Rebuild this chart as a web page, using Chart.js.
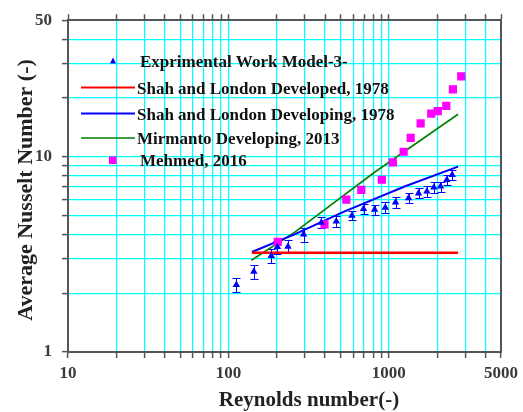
<!DOCTYPE html>
<html>
<head>
<meta charset="utf-8">
<script src="https://cdn.jsdelivr.net/npm/chart.js@4.4.0/dist/chart.umd.min.js"></script>
<style>
  html, body { margin: 0; padding: 0; background: #ffffff; }
  #wrap { width: 523px; height: 412px; position: relative; }
</style>
</head>
<body>
<div id="wrap"><canvas id="c"></canvas></div>
<script>
// Experimental average Nusselt number vs Reynolds number, with ± uncertainty
const reExp = [112, 144, 185, 202, 235, 294, 379, 470, 589, 695, 815, 950, 1101, 1327, 1531, 1726, 1907, 2100, 2298, 2481];
const nuExp = [2.21, 2.58, 3.11, 3.45, 3.47, 4.0, 4.6, 4.67, 5.0, 5.4, 5.36, 5.49, 5.84, 6.14, 6.5, 6.64, 6.96, 7.04, 7.61, 8.07];
const nuExpErr = [0.19, 0.21, 0.24, 0.26, 0.26, 0.33, 0.29, 0.28, 0.25, 0.32, 0.32, 0.36, 0.35, 0.37, 0.39, 0.40, 0.42, 0.42, 0.46, 0.48];

// Correlations
const reShahDeveloped = [140, 2700];
const nuShahDeveloped = [3.22, 3.22];
const reShahDeveloping = [140, 258, 530, 1253, 2700];
const nuShahDeveloping = [3.25, 4.0, 5.25, 7.04, 8.9];
const reMirmanto = [139, 258, 818, 2700];
const nuMirmanto = [2.95, 4.1, 8.35, 16.5];

// Mehmed (2016) data
const reMehmed = [203, 397, 543, 673, 904, 1059, 1236, 1368, 1578, 1837, 2019, 2280, 2507, 2826];
const nuMehmed = [3.66, 4.5, 6.03, 6.77, 7.62, 9.36, 10.6, 12.5, 14.8, 16.6, 17.1, 18.2, 22.1, 25.8];

// Axis ticks and the labels shown on them
const xTickValues = [10, 20, 30, 40, 50, 60, 70, 80, 90, 100, 200, 300, 400, 500, 600, 700, 800, 900, 1000, 2000, 3000, 4000, 5000];
const xTickLabels = { 10: '10', 100: '100', 1000: '1000', 5000: '5000' };
const yTickValues = [1, 2, 3, 4, 5, 6, 7, 8, 9, 10, 20, 30, 40, 50];
const yTickLabels = { 1: '1', 10: '10', 50: '50' };

const seriesNames = [
  'Exprimental Work Model-3-',
  'Shah and London Developed, 1978',
  'Shah and London Developing, 1978',
  'Mirmanto Developing, 2013',
  'Mehmed, 2016'
];
const xTitle = 'Reynolds number(-)';
const yTitle = 'Average Nusselt Number (-)';

const GRID = '#00ffff';
const AXIS = '#555555';
const SERIF = "'Liberation Serif', 'Times New Roman', serif";
const COLORS = ['#0000ff', '#ff0000', '#0000ff', '#008000', '#ff00ff'];

const pts = (xs, ys) => xs.map((x, i) => ({ x: x, y: ys[i] }));
const setTicks = vals => scale => { scale.ticks = vals.map(v => ({ value: v })); };

// vertical error bars with caps under the experimental markers
const errorBars = {
  id: 'errorBars',
  beforeDatasetsDraw(chart) {
    const ctx = chart.ctx, xs = chart.scales.x, ys = chart.scales.y;
    ctx.save();
    ctx.strokeStyle = COLORS[0];
    ctx.lineWidth = 1;
    reExp.forEach((re, i) => {
      const px = Math.round(xs.getPixelForValue(re)) + 0.5;
      const top = Math.round(ys.getPixelForValue(nuExp[i] + nuExpErr[i])) + 0.5;
      const bot = Math.round(ys.getPixelForValue(nuExp[i] - nuExpErr[i])) + 0.5;
      ctx.beginPath();
      ctx.moveTo(px, top); ctx.lineTo(px, bot);
      ctx.moveTo(px - 4, top); ctx.lineTo(px + 4, top);
      ctx.moveTo(px - 4, bot); ctx.lineTo(px + 4, bot);
      ctx.stroke();
    });
    ctx.restore();
  }
};

// legend block inside the plot and the two axis titles
const annotations = {
  id: 'annotations',
  afterDraw(chart) {
    const ctx = chart.ctx;
    ctx.save();
    const rows = [61, 87.5, 113.5, 138, 160];
    ctx.font = 'bold 17px ' + SERIF;
    ctx.fillStyle = '#111111';
    ctx.textBaseline = 'alphabetic';
    ctx.textAlign = 'left';
    rows.forEach((y, i) => {
      if (i === 0) {
        ctx.fillStyle = COLORS[0];
        ctx.beginPath();
        ctx.moveTo(113, y - 3.5);
        ctx.lineTo(116, y + 2.5);
        ctx.lineTo(110, y + 2.5);
        ctx.closePath();
        ctx.fill();
      } else if (i === 4) {
        ctx.fillStyle = COLORS[4];
        ctx.fillRect(109, y - 3.5, 7.5, 7.5);
      } else {
        ctx.strokeStyle = COLORS[i];
        ctx.lineWidth = i === 3 ? 1.6 : 2;
        ctx.beginPath();
        ctx.moveTo(81, y);
        ctx.lineTo(135, y);
        ctx.stroke();
      }
      ctx.fillStyle = '#111111';
      const tx = (i === 0 || i === 4) ? 140 : 137;
      ctx.fillText(seriesNames[i], tx, y + 6);
    });

    ctx.fillStyle = '#222222';
    ctx.font = 'bold 21px ' + SERIF;
    ctx.textAlign = 'center';
    ctx.fillText(xTitle, 309, 406);

    ctx.font = 'bold 22px ' + SERIF;
    ctx.translate(32, 190);
    ctx.rotate(-Math.PI / 2);
    ctx.fillText(yTitle, 0, 0);
    ctx.restore();
  }
};

const edgeX = v => v === 10 || v === 5000;
const edgeY = v => v === 1 || v === 50;

new Chart(document.getElementById('c'), {
  type: 'scatter',
  data: {
    datasets: [
      {
        label: seriesNames[0], data: pts(reExp, nuExp), order: 0,
        pointStyle: 'triangle', pointRadius: 4.3, pointHoverRadius: 4.3,
        backgroundColor: COLORS[0], borderColor: COLORS[0], borderWidth: 0, showLine: false
      },
      {
        label: seriesNames[4], data: pts(reMehmed, nuMehmed), order: 1,
        pointStyle: 'rect', pointRadius: 5.8, pointHoverRadius: 5.8,
        backgroundColor: COLORS[4], borderColor: COLORS[4], borderWidth: 0, showLine: false
      },
      {
        label: seriesNames[1], data: pts(reShahDeveloped, nuShahDeveloped), order: 2,
        showLine: true, pointRadius: 0, borderColor: COLORS[1], borderWidth: 2.5, backgroundColor: COLORS[1]
      },
      {
        label: seriesNames[2], data: pts(reShahDeveloping, nuShahDeveloping), order: 3,
        showLine: true, pointRadius: 0, borderColor: COLORS[2], borderWidth: 2, backgroundColor: COLORS[2]
      },
      {
        label: seriesNames[3], data: pts(reMirmanto, nuMirmanto), order: 4,
        showLine: true, pointRadius: 0, borderColor: COLORS[3], borderWidth: 1.6, backgroundColor: COLORS[3]
      }
    ]
  },
  options: {
    responsive: true,
    maintainAspectRatio: false,
    animation: false,
    layout: { padding: 0 },
    plugins: { legend: { display: false }, tooltip: { enabled: false } },
    scales: {
      x: {
        type: 'logarithmic', position: 'bottom', min: 10, max: 5000,
        afterBuildTicks: setTicks(xTickValues),
        afterFit: s => { s.height = 60; },
        border: { color: AXIS, width: 2 },
        grid: {
          color: c => edgeX(c.tick.value) ? 'rgba(0,0,0,0)' : GRID,
          lineWidth: 1.2, tickColor: AXIS, tickLength: 6, tickWidth: 1.5
        },
        ticks: {
          autoSkip: false, maxRotation: 0, padding: 5, color: '#3a3a3a',
          font: { family: SERIF, size: 17, weight: 'bold' },
          callback: v => xTickLabels[v] || ''
        }
      },
      x2: {
        type: 'logarithmic', position: 'top', min: 10, max: 5000,
        afterBuildTicks: setTicks(xTickValues),
        afterFit: s => { s.height = 16; },
        border: { color: AXIS, width: 2 },
        grid: { drawOnChartArea: false, tickColor: AXIS, tickLength: 6, tickWidth: 1.5 },
        ticks: { display: false, autoSkip: false }
      },
      y: {
        type: 'logarithmic', position: 'left', min: 1, max: 50,
        afterBuildTicks: setTicks(yTickValues),
        afterFit: s => { s.width = 68; },
        border: { color: AXIS, width: 2 },
        grid: {
          color: c => edgeY(c.tick.value) ? 'rgba(0,0,0,0)' : GRID,
          lineWidth: 1.2, tickColor: AXIS, tickLength: 6, tickWidth: 1.5
        },
        ticks: {
          autoSkip: false, padding: 10, color: '#3a3a3a',
          font: { family: SERIF, size: 17, weight: 'bold' },
          callback: v => yTickLabels[v] || ''
        }
      },
      y2: {
        type: 'logarithmic', position: 'right', min: 1, max: 50,
        afterFit: s => { s.width = 19; },
        border: { color: AXIS, width: 2 },
        grid: { drawOnChartArea: false, drawTicks: false },
        ticks: { display: false }
      }
    }
  },
  plugins: [errorBars, annotations]
});
</script>
</body>
</html>
